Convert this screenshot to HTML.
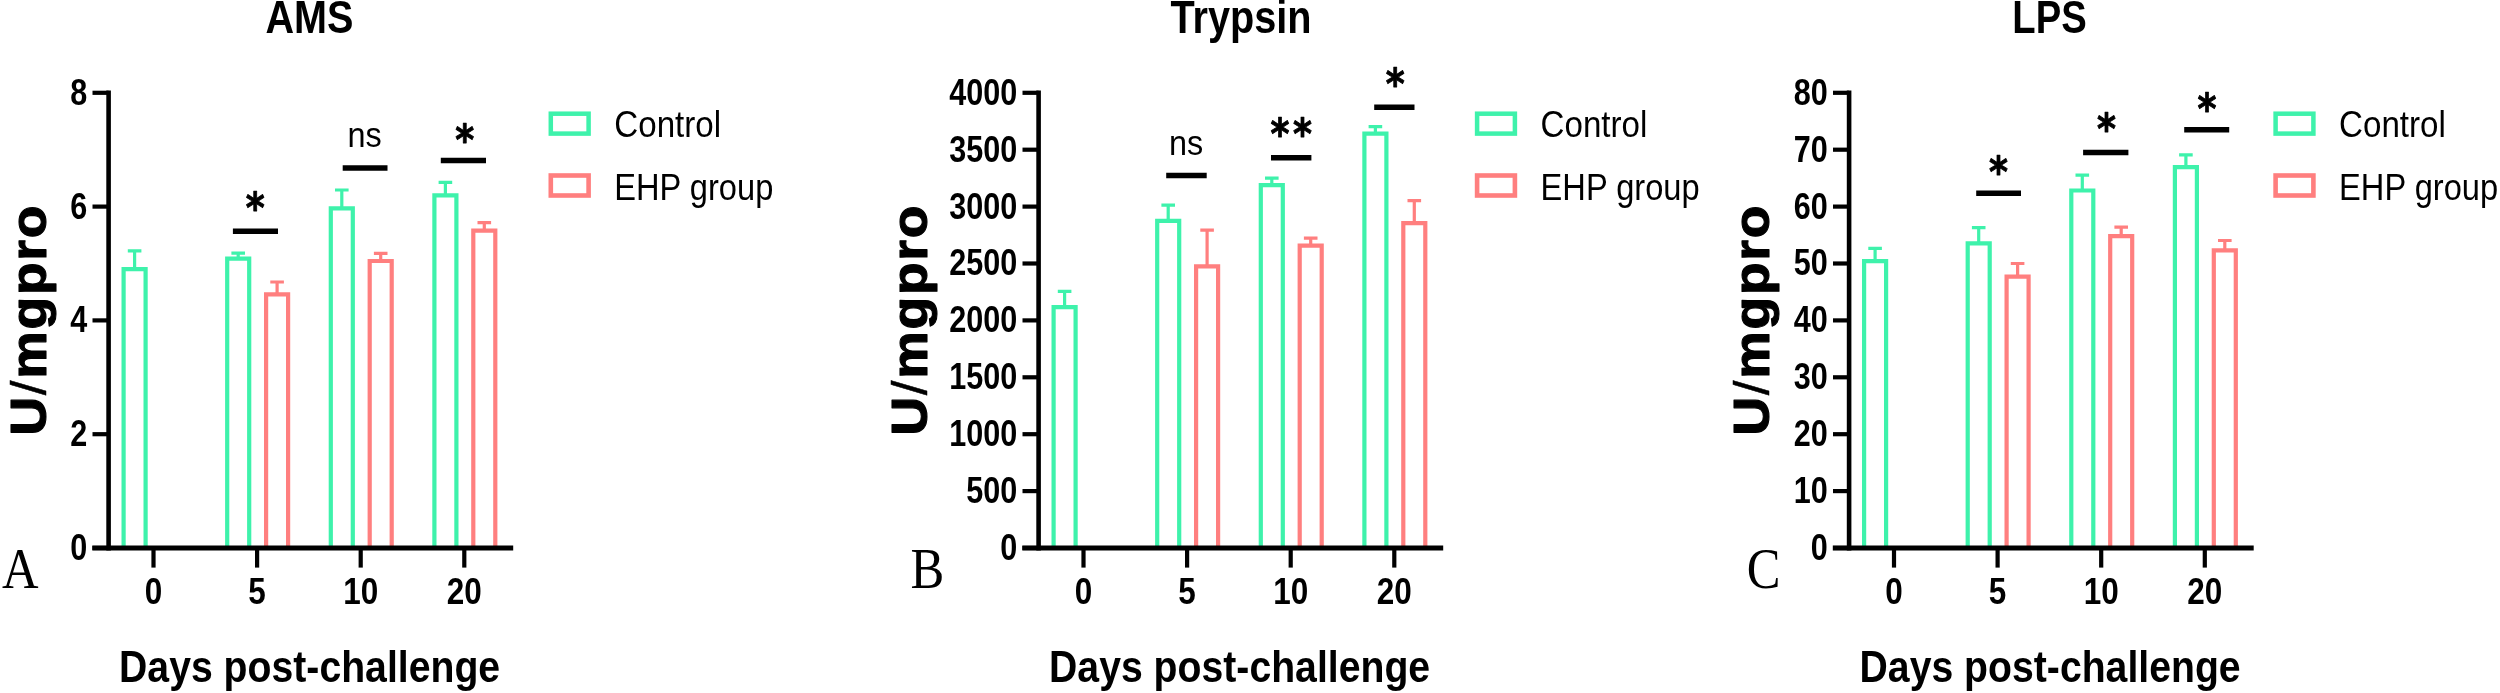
<!DOCTYPE html>
<html lang="en">
<head>
<meta charset="utf-8">
<title>Digestive enzyme activity after EHP challenge</title>
<style>
html,body{margin:0;padding:0;background:#fff;}
body{width:2500px;height:693px;overflow:hidden;}
svg text{fill:#000;}
svg .soft{filter:blur(0.45px);}
</style>
</head>
<body>
<svg width="2500" height="693" viewBox="0 0 2500 693" style="display:block">
<rect width="2500" height="693" fill="#fff"/>
<g class="soft">
<g transform="translate(0 0)">
<text transform="translate(309.4 33.3) scale(0.851 1.0)" font-family="'Liberation Sans', sans-serif" font-size="46.5" font-weight="bold" text-anchor="middle" >AMS</text>
<path d="M134.6 269.1V250.8M127.8 250.8H141.4" stroke="#3ef2ab" stroke-width="3.2" fill="none"/>
<path d="M123.6 548V269.1H145.6V548" stroke="#3ef2ab" stroke-width="4.2" fill="none" stroke-linejoin="miter"/>
<path d="M238.2 258.7V253.2M231.4 253.2H245" stroke="#3ef2ab" stroke-width="3.2" fill="none"/>
<path d="M227.2 548V258.7H249.2V548" stroke="#3ef2ab" stroke-width="4.2" fill="none" stroke-linejoin="miter"/>
<path d="M277.1 294.4V282M270.3 282H283.9" stroke="#ff7f7f" stroke-width="3.2" fill="none"/>
<path d="M266.1 548V294.4H288.1V548" stroke="#ff7f7f" stroke-width="4.2" fill="none" stroke-linejoin="miter"/>
<path d="M341.8 208.4V190M335 190H348.6" stroke="#3ef2ab" stroke-width="3.2" fill="none"/>
<path d="M330.8 548V208.4H352.8V548" stroke="#3ef2ab" stroke-width="4.2" fill="none" stroke-linejoin="miter"/>
<path d="M380.7 261V253.4M373.9 253.4H387.5" stroke="#ff7f7f" stroke-width="3.2" fill="none"/>
<path d="M369.7 548V261H391.7V548" stroke="#ff7f7f" stroke-width="4.2" fill="none" stroke-linejoin="miter"/>
<path d="M445.4 195.4V182.4M438.6 182.4H452.2" stroke="#3ef2ab" stroke-width="3.2" fill="none"/>
<path d="M434.4 548V195.4H456.4V548" stroke="#3ef2ab" stroke-width="4.2" fill="none" stroke-linejoin="miter"/>
<path d="M484.3 230.7V222.6M477.5 222.6H491.1" stroke="#ff7f7f" stroke-width="3.2" fill="none"/>
<path d="M473.3 548V230.7H495.3V548" stroke="#ff7f7f" stroke-width="4.2" fill="none" stroke-linejoin="miter"/>
<path d="M108.6 90.55V550.4" stroke="#000" stroke-width="4.6" fill="none"/>
<path d="M92.3 548.0H513.2" stroke="#000" stroke-width="4.8" fill="none"/>
<path d="M92.5 92.8H108.6" stroke="#000" stroke-width="4.2"/>
<text transform="translate(87.2 104.7) scale(0.815 1.0)" font-family="'Liberation Sans', sans-serif" font-size="37.5" font-weight="bold" text-anchor="end" >8</text>
<path d="M92.5 206.6H108.6" stroke="#000" stroke-width="4.2"/>
<text transform="translate(87.2 218.5) scale(0.815 1.0)" font-family="'Liberation Sans', sans-serif" font-size="37.5" font-weight="bold" text-anchor="end" >6</text>
<path d="M92.5 320.4H108.6" stroke="#000" stroke-width="4.2"/>
<text transform="translate(87.2 332.3) scale(0.815 1.0)" font-family="'Liberation Sans', sans-serif" font-size="37.5" font-weight="bold" text-anchor="end" >4</text>
<path d="M92.5 434.2H108.6" stroke="#000" stroke-width="4.2"/>
<text transform="translate(87.2 446.1) scale(0.815 1.0)" font-family="'Liberation Sans', sans-serif" font-size="37.5" font-weight="bold" text-anchor="end" >2</text>
<path d="M92.5 548H108.6" stroke="#000" stroke-width="4.2"/>
<text transform="translate(87.2 559.9) scale(0.815 1.0)" font-family="'Liberation Sans', sans-serif" font-size="37.5" font-weight="bold" text-anchor="end" >0</text>
<path d="M153.5 548.0V567.6" stroke="#000" stroke-width="4.2"/>
<text transform="translate(153.5 604.3) scale(0.84 1.0)" font-family="'Liberation Sans', sans-serif" font-size="37.5" font-weight="bold" text-anchor="middle" >0</text>
<path d="M257.1 548.0V567.6" stroke="#000" stroke-width="4.2"/>
<text transform="translate(257.1 604.3) scale(0.84 1.0)" font-family="'Liberation Sans', sans-serif" font-size="37.5" font-weight="bold" text-anchor="middle" >5</text>
<path d="M360.7 548.0V567.6" stroke="#000" stroke-width="4.2"/>
<text transform="translate(360.7 604.3) scale(0.84 1.0)" font-family="'Liberation Sans', sans-serif" font-size="37.5" font-weight="bold" text-anchor="middle" >10</text>
<path d="M464.3 548.0V567.6" stroke="#000" stroke-width="4.2"/>
<text transform="translate(464.3 604.3) scale(0.84 1.0)" font-family="'Liberation Sans', sans-serif" font-size="37.5" font-weight="bold" text-anchor="middle" >20</text>
<text transform="translate(309.6 682.4) scale(0.871 1.0)" font-family="'Liberation Sans', sans-serif" font-size="45" font-weight="bold" text-anchor="middle" >Days post-challenge</text>
<text transform="translate(46.4 319.7) rotate(-90) scale(1.069 1)" font-family="'Liberation Sans', sans-serif" font-size="50" font-weight="bold" text-anchor="middle" stroke="#000" stroke-width="1.1" stroke-linejoin="round" letter-spacing="1.6">U<tspan font-weight="normal" stroke-width="0.5">/</tspan>mgpro</text>
<path d="M232.9 231.2H278" stroke="#000" stroke-width="5.5"/>
<text transform="translate(255.3 222.8) scale(0.84 1.0)" font-family="'DejaVu Sans', 'Liberation Sans', sans-serif" font-size="43.2" font-weight="bold" text-anchor="middle" stroke="#000" stroke-width="0.9" stroke-linejoin="round">*</text>
<path d="M342.7 168.1H387.5" stroke="#000" stroke-width="5.5"/>
<text transform="translate(364.7 147.3) scale(0.9 1.0)" font-family="'Liberation Sans', sans-serif" font-size="36" font-weight="normal" text-anchor="middle" >ns</text>
<path d="M440.8 160.4H486" stroke="#000" stroke-width="5.5"/>
<text transform="translate(464.7 154.7) scale(0.84 1.0)" font-family="'DejaVu Sans', 'Liberation Sans', sans-serif" font-size="43.2" font-weight="bold" text-anchor="middle" stroke="#000" stroke-width="0.9" stroke-linejoin="round">*</text>
<rect x="550.8" y="113.7" width="37.8" height="19.9" fill="none" stroke="#3ef2ab" stroke-width="4.5"/>
<rect x="550.8" y="175.5" width="37.8" height="20" fill="none" stroke="#ff7f7f" stroke-width="4.6"/>
<text transform="translate(614.3 136.9) scale(0.895 1.0)" font-family="'Liberation Sans', sans-serif" font-size="37" font-weight="normal" text-anchor="start" >Control</text>
<text transform="translate(614.3 199.7) scale(0.882 1.0)" font-family="'Liberation Sans', sans-serif" font-size="37" font-weight="normal" text-anchor="start" >EHP group</text>
<text transform="translate(1.9 588) scale(0.88 1.0)" font-family="'Liberation Serif', serif" font-size="57.5" font-weight="normal" text-anchor="start" >A</text>
</g>
<g transform="translate(930 0)">
<text transform="translate(311 33.3) scale(0.854 1.0)" font-family="'Liberation Sans', sans-serif" font-size="46.5" font-weight="bold" text-anchor="middle" >Trypsin</text>
<path d="M134.6 307.1V291.4M127.8 291.4H141.4" stroke="#3ef2ab" stroke-width="3.2" fill="none"/>
<path d="M123.6 548V307.1H145.6V548" stroke="#3ef2ab" stroke-width="4.2" fill="none" stroke-linejoin="miter"/>
<path d="M238.2 220.9V205.1M231.4 205.1H245" stroke="#3ef2ab" stroke-width="3.2" fill="none"/>
<path d="M227.2 548V220.9H249.2V548" stroke="#3ef2ab" stroke-width="4.2" fill="none" stroke-linejoin="miter"/>
<path d="M277.1 266.4V230.2M270.3 230.2H283.9" stroke="#ff7f7f" stroke-width="3.2" fill="none"/>
<path d="M266.1 548V266.4H288.1V548" stroke="#ff7f7f" stroke-width="4.2" fill="none" stroke-linejoin="miter"/>
<path d="M341.8 185.2V178.2M335 178.2H348.6" stroke="#3ef2ab" stroke-width="3.2" fill="none"/>
<path d="M330.8 548V185.2H352.8V548" stroke="#3ef2ab" stroke-width="4.2" fill="none" stroke-linejoin="miter"/>
<path d="M380.7 245.6V238.2M373.9 238.2H387.5" stroke="#ff7f7f" stroke-width="3.2" fill="none"/>
<path d="M369.7 548V245.6H391.7V548" stroke="#ff7f7f" stroke-width="4.2" fill="none" stroke-linejoin="miter"/>
<path d="M445.4 133.7V126.7M438.6 126.7H452.2" stroke="#3ef2ab" stroke-width="3.2" fill="none"/>
<path d="M434.4 548V133.7H456.4V548" stroke="#3ef2ab" stroke-width="4.2" fill="none" stroke-linejoin="miter"/>
<path d="M484.3 223.1V200.7M477.5 200.7H491.1" stroke="#ff7f7f" stroke-width="3.2" fill="none"/>
<path d="M473.3 548V223.1H495.3V548" stroke="#ff7f7f" stroke-width="4.2" fill="none" stroke-linejoin="miter"/>
<path d="M108.6 90.55V550.4" stroke="#000" stroke-width="4.6" fill="none"/>
<path d="M92.3 548.0H513.2" stroke="#000" stroke-width="4.8" fill="none"/>
<path d="M92.5 92.8H108.6" stroke="#000" stroke-width="4.2"/>
<text transform="translate(87.2 104.7) scale(0.815 1.0)" font-family="'Liberation Sans', sans-serif" font-size="37.5" font-weight="bold" text-anchor="end" >4000</text>
<path d="M92.5 149.7H108.6" stroke="#000" stroke-width="4.2"/>
<text transform="translate(87.2 161.6) scale(0.815 1.0)" font-family="'Liberation Sans', sans-serif" font-size="37.5" font-weight="bold" text-anchor="end" >3500</text>
<path d="M92.5 206.6H108.6" stroke="#000" stroke-width="4.2"/>
<text transform="translate(87.2 218.5) scale(0.815 1.0)" font-family="'Liberation Sans', sans-serif" font-size="37.5" font-weight="bold" text-anchor="end" >3000</text>
<path d="M92.5 263.5H108.6" stroke="#000" stroke-width="4.2"/>
<text transform="translate(87.2 275.4) scale(0.815 1.0)" font-family="'Liberation Sans', sans-serif" font-size="37.5" font-weight="bold" text-anchor="end" >2500</text>
<path d="M92.5 320.4H108.6" stroke="#000" stroke-width="4.2"/>
<text transform="translate(87.2 332.3) scale(0.815 1.0)" font-family="'Liberation Sans', sans-serif" font-size="37.5" font-weight="bold" text-anchor="end" >2000</text>
<path d="M92.5 377.3H108.6" stroke="#000" stroke-width="4.2"/>
<text transform="translate(87.2 389.2) scale(0.815 1.0)" font-family="'Liberation Sans', sans-serif" font-size="37.5" font-weight="bold" text-anchor="end" >1500</text>
<path d="M92.5 434.2H108.6" stroke="#000" stroke-width="4.2"/>
<text transform="translate(87.2 446.1) scale(0.815 1.0)" font-family="'Liberation Sans', sans-serif" font-size="37.5" font-weight="bold" text-anchor="end" >1000</text>
<path d="M92.5 491.1H108.6" stroke="#000" stroke-width="4.2"/>
<text transform="translate(87.2 503) scale(0.815 1.0)" font-family="'Liberation Sans', sans-serif" font-size="37.5" font-weight="bold" text-anchor="end" >500</text>
<path d="M92.5 548H108.6" stroke="#000" stroke-width="4.2"/>
<text transform="translate(87.2 559.9) scale(0.815 1.0)" font-family="'Liberation Sans', sans-serif" font-size="37.5" font-weight="bold" text-anchor="end" >0</text>
<path d="M153.5 548.0V567.6" stroke="#000" stroke-width="4.2"/>
<text transform="translate(153.5 604.3) scale(0.84 1.0)" font-family="'Liberation Sans', sans-serif" font-size="37.5" font-weight="bold" text-anchor="middle" >0</text>
<path d="M257.1 548.0V567.6" stroke="#000" stroke-width="4.2"/>
<text transform="translate(257.1 604.3) scale(0.84 1.0)" font-family="'Liberation Sans', sans-serif" font-size="37.5" font-weight="bold" text-anchor="middle" >5</text>
<path d="M360.7 548.0V567.6" stroke="#000" stroke-width="4.2"/>
<text transform="translate(360.7 604.3) scale(0.84 1.0)" font-family="'Liberation Sans', sans-serif" font-size="37.5" font-weight="bold" text-anchor="middle" >10</text>
<path d="M464.3 548.0V567.6" stroke="#000" stroke-width="4.2"/>
<text transform="translate(464.3 604.3) scale(0.84 1.0)" font-family="'Liberation Sans', sans-serif" font-size="37.5" font-weight="bold" text-anchor="middle" >20</text>
<text transform="translate(309.6 682.4) scale(0.871 1.0)" font-family="'Liberation Sans', sans-serif" font-size="45" font-weight="bold" text-anchor="middle" >Days post-challenge</text>
<text transform="translate(-3.4 319.7) rotate(-90) scale(1.069 1)" font-family="'Liberation Sans', sans-serif" font-size="50" font-weight="bold" text-anchor="middle" stroke="#000" stroke-width="1.1" stroke-linejoin="round" letter-spacing="1.6">U<tspan font-weight="normal" stroke-width="0.5">/</tspan>mgpro</text>
<path d="M236.2 175.6H276.7" stroke="#000" stroke-width="5.5"/>
<text transform="translate(256.2 155) scale(0.9 1.0)" font-family="'Liberation Sans', sans-serif" font-size="36" font-weight="normal" text-anchor="middle" >ns</text>
<path d="M341 157.7H381.4" stroke="#000" stroke-width="5.5"/>
<text transform="translate(350 149.1) scale(0.84 1.0)" font-family="'DejaVu Sans', 'Liberation Sans', sans-serif" font-size="43.2" font-weight="bold" text-anchor="middle" stroke="#000" stroke-width="0.9" stroke-linejoin="round">*</text>
<text transform="translate(372.4 149.1) scale(0.84 1.0)" font-family="'DejaVu Sans', 'Liberation Sans', sans-serif" font-size="43.2" font-weight="bold" text-anchor="middle" stroke="#000" stroke-width="0.9" stroke-linejoin="round">*</text>
<path d="M444.2 107.3H484.5" stroke="#000" stroke-width="5.5"/>
<text transform="translate(465.3 98.8) scale(0.84 1.0)" font-family="'DejaVu Sans', 'Liberation Sans', sans-serif" font-size="43.2" font-weight="bold" text-anchor="middle" stroke="#000" stroke-width="0.9" stroke-linejoin="round">*</text>
<rect x="547.1" y="113.7" width="37.8" height="19.9" fill="none" stroke="#3ef2ab" stroke-width="4.5"/>
<rect x="547.1" y="175.5" width="37.8" height="20" fill="none" stroke="#ff7f7f" stroke-width="4.6"/>
<text transform="translate(610.6 136.9) scale(0.895 1.0)" font-family="'Liberation Sans', sans-serif" font-size="37" font-weight="normal" text-anchor="start" >Control</text>
<text transform="translate(610.6 199.7) scale(0.882 1.0)" font-family="'Liberation Sans', sans-serif" font-size="37" font-weight="normal" text-anchor="start" >EHP group</text>
<text transform="translate(-19.6 588) scale(0.88 1.0)" font-family="'Liberation Serif', serif" font-size="57.5" font-weight="normal" text-anchor="start" >B</text>
</g>
<g transform="translate(1740.5 0)">
<text transform="translate(309 33.3) scale(0.822 1.0)" font-family="'Liberation Sans', sans-serif" font-size="46.5" font-weight="bold" text-anchor="middle" >LPS</text>
<path d="M134.6 261.1V248.3M127.8 248.3H141.4" stroke="#3ef2ab" stroke-width="3.2" fill="none"/>
<path d="M123.6 548V261.1H145.6V548" stroke="#3ef2ab" stroke-width="4.2" fill="none" stroke-linejoin="miter"/>
<path d="M238.2 243.4V227.7M231.4 227.7H245" stroke="#3ef2ab" stroke-width="3.2" fill="none"/>
<path d="M227.2 548V243.4H249.2V548" stroke="#3ef2ab" stroke-width="4.2" fill="none" stroke-linejoin="miter"/>
<path d="M277.1 276.7V263.5M270.3 263.5H283.9" stroke="#ff7f7f" stroke-width="3.2" fill="none"/>
<path d="M266.1 548V276.7H288.1V548" stroke="#ff7f7f" stroke-width="4.2" fill="none" stroke-linejoin="miter"/>
<path d="M341.8 190.5V175.1M335 175.1H348.6" stroke="#3ef2ab" stroke-width="3.2" fill="none"/>
<path d="M330.8 548V190.5H352.8V548" stroke="#3ef2ab" stroke-width="4.2" fill="none" stroke-linejoin="miter"/>
<path d="M380.7 236.2V227.1M373.9 227.1H387.5" stroke="#ff7f7f" stroke-width="3.2" fill="none"/>
<path d="M369.7 548V236.2H391.7V548" stroke="#ff7f7f" stroke-width="4.2" fill="none" stroke-linejoin="miter"/>
<path d="M445.4 167.2V154.8M438.6 154.8H452.2" stroke="#3ef2ab" stroke-width="3.2" fill="none"/>
<path d="M434.4 548V167.2H456.4V548" stroke="#3ef2ab" stroke-width="4.2" fill="none" stroke-linejoin="miter"/>
<path d="M484.3 250.3V240.5M477.5 240.5H491.1" stroke="#ff7f7f" stroke-width="3.2" fill="none"/>
<path d="M473.3 548V250.3H495.3V548" stroke="#ff7f7f" stroke-width="4.2" fill="none" stroke-linejoin="miter"/>
<path d="M108.6 90.55V550.4" stroke="#000" stroke-width="4.6" fill="none"/>
<path d="M92.3 548.0H513.2" stroke="#000" stroke-width="4.8" fill="none"/>
<path d="M92.5 92.8H108.6" stroke="#000" stroke-width="4.2"/>
<text transform="translate(87.2 104.7) scale(0.815 1.0)" font-family="'Liberation Sans', sans-serif" font-size="37.5" font-weight="bold" text-anchor="end" >80</text>
<path d="M92.5 149.7H108.6" stroke="#000" stroke-width="4.2"/>
<text transform="translate(87.2 161.6) scale(0.815 1.0)" font-family="'Liberation Sans', sans-serif" font-size="37.5" font-weight="bold" text-anchor="end" >70</text>
<path d="M92.5 206.6H108.6" stroke="#000" stroke-width="4.2"/>
<text transform="translate(87.2 218.5) scale(0.815 1.0)" font-family="'Liberation Sans', sans-serif" font-size="37.5" font-weight="bold" text-anchor="end" >60</text>
<path d="M92.5 263.5H108.6" stroke="#000" stroke-width="4.2"/>
<text transform="translate(87.2 275.4) scale(0.815 1.0)" font-family="'Liberation Sans', sans-serif" font-size="37.5" font-weight="bold" text-anchor="end" >50</text>
<path d="M92.5 320.4H108.6" stroke="#000" stroke-width="4.2"/>
<text transform="translate(87.2 332.3) scale(0.815 1.0)" font-family="'Liberation Sans', sans-serif" font-size="37.5" font-weight="bold" text-anchor="end" >40</text>
<path d="M92.5 377.3H108.6" stroke="#000" stroke-width="4.2"/>
<text transform="translate(87.2 389.2) scale(0.815 1.0)" font-family="'Liberation Sans', sans-serif" font-size="37.5" font-weight="bold" text-anchor="end" >30</text>
<path d="M92.5 434.2H108.6" stroke="#000" stroke-width="4.2"/>
<text transform="translate(87.2 446.1) scale(0.815 1.0)" font-family="'Liberation Sans', sans-serif" font-size="37.5" font-weight="bold" text-anchor="end" >20</text>
<path d="M92.5 491.1H108.6" stroke="#000" stroke-width="4.2"/>
<text transform="translate(87.2 503) scale(0.815 1.0)" font-family="'Liberation Sans', sans-serif" font-size="37.5" font-weight="bold" text-anchor="end" >10</text>
<path d="M92.5 548H108.6" stroke="#000" stroke-width="4.2"/>
<text transform="translate(87.2 559.9) scale(0.815 1.0)" font-family="'Liberation Sans', sans-serif" font-size="37.5" font-weight="bold" text-anchor="end" >0</text>
<path d="M153.5 548.0V567.6" stroke="#000" stroke-width="4.2"/>
<text transform="translate(153.5 604.3) scale(0.84 1.0)" font-family="'Liberation Sans', sans-serif" font-size="37.5" font-weight="bold" text-anchor="middle" >0</text>
<path d="M257.1 548.0V567.6" stroke="#000" stroke-width="4.2"/>
<text transform="translate(257.1 604.3) scale(0.84 1.0)" font-family="'Liberation Sans', sans-serif" font-size="37.5" font-weight="bold" text-anchor="middle" >5</text>
<path d="M360.7 548.0V567.6" stroke="#000" stroke-width="4.2"/>
<text transform="translate(360.7 604.3) scale(0.84 1.0)" font-family="'Liberation Sans', sans-serif" font-size="37.5" font-weight="bold" text-anchor="middle" >10</text>
<path d="M464.3 548.0V567.6" stroke="#000" stroke-width="4.2"/>
<text transform="translate(464.3 604.3) scale(0.84 1.0)" font-family="'Liberation Sans', sans-serif" font-size="37.5" font-weight="bold" text-anchor="middle" >20</text>
<text transform="translate(309.6 682.4) scale(0.871 1.0)" font-family="'Liberation Sans', sans-serif" font-size="45" font-weight="bold" text-anchor="middle" >Days post-challenge</text>
<text transform="translate(28.6 319.7) rotate(-90) scale(1.069 1)" font-family="'Liberation Sans', sans-serif" font-size="50" font-weight="bold" text-anchor="middle" stroke="#000" stroke-width="1.1" stroke-linejoin="round" letter-spacing="1.6">U<tspan font-weight="normal" stroke-width="0.5">/</tspan>mgpro</text>
<path d="M235.7 193.3H280.5" stroke="#000" stroke-width="5.5"/>
<text transform="translate(258.1 187.2) scale(0.84 1.0)" font-family="'DejaVu Sans', 'Liberation Sans', sans-serif" font-size="43.2" font-weight="bold" text-anchor="middle" stroke="#000" stroke-width="0.9" stroke-linejoin="round">*</text>
<path d="M342.6 152.5H387.9" stroke="#000" stroke-width="5.5"/>
<text transform="translate(366.1 144.2) scale(0.84 1.0)" font-family="'DejaVu Sans', 'Liberation Sans', sans-serif" font-size="43.2" font-weight="bold" text-anchor="middle" stroke="#000" stroke-width="0.9" stroke-linejoin="round">*</text>
<path d="M443.7 129.8H488.7" stroke="#000" stroke-width="5.5"/>
<text transform="translate(466.4 123.9) scale(0.84 1.0)" font-family="'DejaVu Sans', 'Liberation Sans', sans-serif" font-size="43.2" font-weight="bold" text-anchor="middle" stroke="#000" stroke-width="0.9" stroke-linejoin="round">*</text>
<rect x="535.1" y="113.7" width="37.8" height="19.9" fill="none" stroke="#3ef2ab" stroke-width="4.5"/>
<rect x="535.1" y="175.5" width="37.8" height="20" fill="none" stroke="#ff7f7f" stroke-width="4.6"/>
<text transform="translate(598.6 136.9) scale(0.895 1.0)" font-family="'Liberation Sans', sans-serif" font-size="37" font-weight="normal" text-anchor="start" >Control</text>
<text transform="translate(598.6 199.7) scale(0.882 1.0)" font-family="'Liberation Sans', sans-serif" font-size="37" font-weight="normal" text-anchor="start" >EHP group</text>
<text transform="translate(6.2 588) scale(0.88 1.0)" font-family="'Liberation Serif', serif" font-size="57.5" font-weight="normal" text-anchor="start" >C</text>
</g>
</g>
</svg>
</body>
</html>
